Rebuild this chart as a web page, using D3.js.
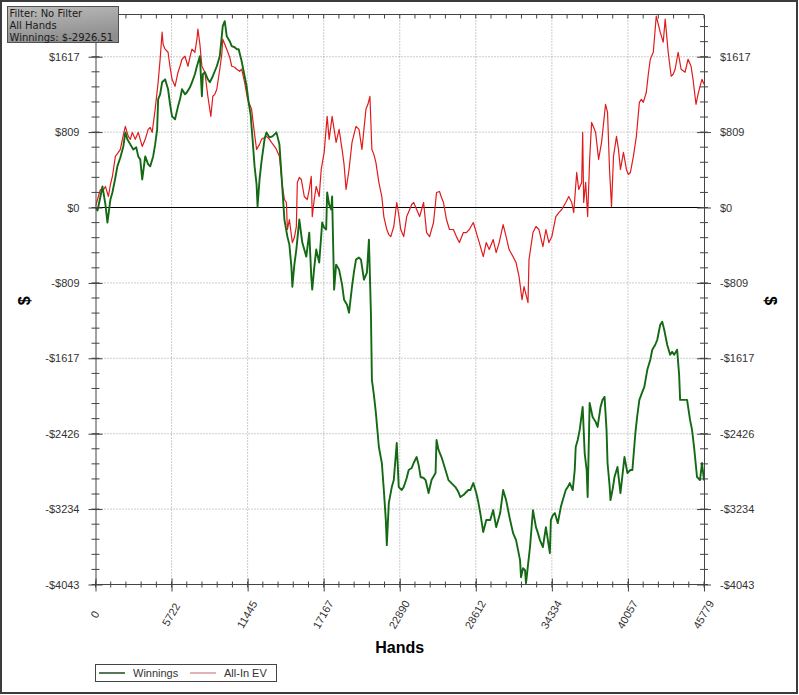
<!DOCTYPE html>
<html>
<head>
<meta charset="utf-8">
<script src="https://cdn.jsdelivr.net/npm/d3@7/dist/d3.min.js"></script>
<style>
body { margin: 0; background: #fff; }
text { font-family: "Liberation Sans", Arial, sans-serif; }
</style>
</head>
<body>
<script>
// hands played (x) and running result in $ for each series
var winHands = [0,150,374,524,748,898,1122,1272,1496,1646,
  1870,2094,2244,2394,2618,2842,3067,3216,3366,3516,
  3740,3964,4114,4338,4488,4638,4712,4862,5012,5236,
  5460,5610,5760,5984,6208,6358,6508,6732,6882,7106,
  7256,7480,7630,7854,8004,8078,8228,8452,8602,8826,
  9126,9350,9574,9724,9874,10098,10248,10472,10622,10771,
  10996,11220,11370,11519,11669,11818,11968,12118,12192,12342,
  12492,12716,12866,13090,13314,13464,13614,13838,13988,14212,
  14436,14586,14736,14810,14960,15110,15334,15558,15708,15858,
  16082,16232,16306,16456,16606,16830,17054,17204,17354,17428,
  17578,17728,17802,17952,18102,18326,18550,18700,18924,19074,
  19298,19448,19598,19822,19972,20196,20420,20570,20720,20794,
  20944,21094,21318,21542,21692,21842,21916,22066,22290,22440,
  22664,22814,23038,23188,23412,23562,23786,23936,24160,24310,
  24460,24684,24834,25058,25282,25582,25656,25806,26030,26330,
  26554,26778,27078,27302,27452,27676,27826,28050,28200,28424,
  28648,28798,28948,29172,29396,29696,29920,30144,30444,30668,
  30892,31192,31416,31640,31790,31940,32014,32164,32314,32388,
  32538,32688,32912,33136,33286,33436,33660,33884,34034,34184,
  34258,34408,34558,34782,35006,35156,35380,35530,35680,35904,
  36054,36128,36278,36428,36652,36802,36951,37026,37176,37400,
  37624,37774,37998,38148,38298,38447,38522,38672,38746,38896,
  39046,39270,39494,39644,39794,40018,40242,40392,40616,40766,
  40916,41140,41290,41514,41738,41888,42112,42262,42486,42636,
  42786,43010,43234,43384,43534,43758,43908,43982,44282,44506,
  44730,44880,45030,45254,45478,45628,45779]

var winnings = [0,-32,118,226,32,-161,86,161,322,441,
  537,655,806,731,677,623,645,548,516,301,
  548,462,441,548,677,838,1160,1214,1343,1375,
  1268,1107,978,946,1085,1160,1268,1214,1236,1289,
  1343,1429,1515,1622,1193,1429,1451,1375,1343,1408,
  1515,1622,1945,1999,1837,1784,1730,1719,1698,1698,
  1569,1408,1300,1128,999,731,441,247,11,301,
  494,731,806,752,763,784,806,677,355,-129,
  -312,-398,-634,-849,-612,-451,-129,-376,-451,-527,
  -269,-741,-881,-645,-451,-591,-161,-215,-236,161,
  32,-21,118,-881,-612,-666,-827,-989,-1042,-1128,
  -849,-688,-559,-537,-559,-774,-698,-344,-1128,-1848,
  -2009,-2203,-2568,-2740,-3030,-3352,-3621,-3170,-2998,-2923,
  -2525,-2998,-3030,-2998,-2901,-2815,-2794,-2740,-2676,-2761,
  -2890,-2901,-2923,-3062,-2923,-2847,-2493,-2600,-2676,-2815,
  -2923,-2955,-2998,-3052,-3105,-3084,-3062,-3030,-3030,-2955,
  -3062,-3159,-3277,-3481,-3352,-3352,-3245,-3428,-3277,-3030,
  -3138,-3352,-3492,-3567,-3675,-3782,-3965,-3868,-3890,-4029,
  -3836,-3643,-3245,-3428,-3492,-3567,-3643,-3428,-3567,-3707,
  -3352,-3299,-3277,-3385,-3213,-3138,-3030,-2998,-2955,-3030,
  -2815,-2568,-2493,-2385,-2138,-2633,-2815,-3105,-2095,-2246,
  -2299,-2353,-2138,-2063,-2031,-2385,-2740,-2976,-3138,-3030,
  -2890,-2783,-3062,-2869,-2676,-2847,-2815,-2815,-2418,-2224,
  -2063,-1977,-1923,-1741,-1633,-1526,-1472,-1418,-1257,-1225,
  -1311,-1472,-1580,-1547,-1580,-1526,-1794,-2063,-2063,-2063,
  -2278,-2385,-2568,-2890,-2923,-2740,-2926.51]

var evHands = [0,150,374,524,748,972,1122,1272,1496,1720,
  1870,2020,2244,2468,2618,2768,2992,3216,3366,3516,
  3740,3964,4114,4264,4488,4712,4862,5012,5086,5236,
  5460,5610,5760,5984,6208,6358,6508,6732,6956,7106,
  7256,7480,7630,7704,7854,8004,8228,8452,8677,8826,
  8976,9126,9350,9500,9574,9724,9874,10098,10248,10472,
  10622,10846,10996,11220,11444,11594,11744,11968,12118,12342,
  12492,12716,12866,13090,13240,13464,13614,13838,14062,14212,
  14362,14436,14586,14810,14960,15110,15184,15334,15484,15708,
  15932,16082,16232,16306,16456,16606,16830,16980,17204,17428,
  17578,17802,17952,18102,18326,18550,18700,18850,19074,19298,
  19448,19598,19822,20046,20196,20346,20495,20645,20794,20944,
  21094,21318,21542,21692,21916,22066,22216,22440,22664,22814,
  22964,23188,23412,23637,23786,23936,24160,24385,24534,24684,
  24908,25133,25282,25432,25656,25881,26030,26180,26404,26629,
  26928,27152,27377,27676,27900,28125,28424,28648,28873,29172,
  29396,29621,29920,30144,30369,30668,30892,31117,31416,31640,
  31865,32089,32239,32388,32538,32613,32912,33136,33361,33660,
  33884,34109,34333,34632,34857,35081,35380,35605,35829,35979,
  36203,36353,36577,36652,36727,36876,37026,37176,37325,37475,
  37624,37849,38073,38372,38522,38672,38821,38971,39195,39345,
  39494,39719,39943,40093,40242,40467,40691,40916,41065,41215,
  41439,41589,41738,41963,42187,42337,42486,42711,42860,43085,
  43309,43459,43608,43833,44057,44356,44581,44805,44955,45104,
  45179,45329,45478,45628,45779]

var allInEv = [11,86,193,172,226,118,247,333,548,591,
  623,731,870,763,731,806,731,806,731,655,
  731,838,860,806,1053,1343,1590,1880,1751,1698,
  1665,1504,1375,1300,1451,1515,1590,1622,1515,1612,
  1698,1665,1805,1913,1751,1515,1451,1193,978,1193,
  1214,1268,1483,1644,1805,1751,1698,1612,1515,1504,
  1483,1461,1483,1343,1160,1107,1053,784,623,677,
  731,752,763,731,698,655,623,548,226,86,
  54,-236,-129,-376,-322,-204,269,322,301,118,
  86,193,333,-97,86,226,118,408,591,978,
  731,978,838,698,838,623,462,193,408,698,
  784,870,838,623,838,1053,1107,1193,623,570,
  484,269,118,-97,-236,-290,-312,-204,54,-75,
  -236,-312,-97,-21,32,54,-21,-97,-21,54,
  -269,-312,-236,-161,161,172,107,54,-129,-236,
  -236,-312,-376,-269,-269,-236,-161,-269,-376,-527,
  -376,-451,-344,-484,-376,-183,-312,-451,-527,-591,
  -741,-989,-849,-935,-1021,-559,-269,-204,-236,-419,
  -236,-376,-312,-97,-54,-21,54,118,54,-54,
  376,193,269,806,54,269,-97,516,913,860,
  806,516,698,1107,1021,408,11,548,763,623,
  408,591,408,355,376,548,763,1128,1160,1128,
  1236,1429,1590,1665,2052,1966,1880,1773,2020,1665,
  1408,1429,1483,1665,1483,1451,1590,1515,1375,1193,
  1107,1214,1300,1375,1322]

var xTickValues = [0, 5722, 11445, 17167, 22890, 28612, 34334, 40057, 45779]
var yTickValues = [-4043, -3234, -2426, -1617, -809, 0, 809, 1617]
var yTickLabels = ['-$4043', '-$3234', '-$2426', '-$1617', '-$809', '$0', '$809', '$1617']
var infoLines = ['Filter: No Filter', 'All Hands', 'Winnings: $-2926.51']
var seriesNames = ['Winnings', 'All-In EV']
var seriesColors = ['#146a14', '#e01b1b']

var width = 799
var height = 695
var plot = {left: 95.5, right: 704, top: 14.5, bottom: 584.5}

var x = d3.scaleLinear()
  .domain([0, 45779])
  .range([plot.left, plot.right])

var y = d3.scaleLinear()
  .domain([-4043, 2070])
  .range([plot.bottom, plot.top])

var xMinor = d3.range(0, 41).map(function (i) { return i * 45779 / 40 })
var yMinor = d3.range(0, 38).map(function (i) { return -4043 + i * 4043 / 25 })

var svg = d3.select('body').append('svg')
  .attr('width', width)
  .attr('height', height)

// outer frame
svg.append('rect')
  .attr('x', 1).attr('y', 1)
  .attr('width', width - 3).attr('height', height - 3)
  .attr('fill', '#fff')
  .attr('stroke', '#3c3c3c')
  .attr('stroke-width', 2)

// dotted grid
svg.append('g').selectAll('line')
  .data(xTickValues.slice(1, -1))
  .enter().append('line')
  .attr('x1', function (d) { return x(d) }).attr('x2', function (d) { return x(d) })
  .attr('y1', plot.top).attr('y2', plot.bottom)
  .attr('stroke', '#9a9a9a')
  .attr('stroke-dasharray', '1,2')

svg.append('g').selectAll('line')
  .data(yTickValues.filter(function (d) { return d !== 0 && d !== -4043 }))
  .enter().append('line')
  .attr('x1', plot.left).attr('x2', plot.right)
  .attr('y1', function (d) { return y(d) }).attr('y2', function (d) { return y(d) })
  .attr('stroke', '#9a9a9a')
  .attr('stroke-dasharray', '1,2')

// zero line
svg.append('line')
  .attr('x1', plot.left).attr('x2', plot.right)
  .attr('y1', y(0)).attr('y2', y(0))
  .attr('stroke', '#000')
  .attr('stroke-width', 1)

svg.append('clipPath').attr('id', 'clip')
  .append('rect')
  .attr('x', plot.left).attr('y', plot.top - 1)
  .attr('width', plot.right - plot.left).attr('height', plot.bottom - plot.top + 2)

var line = d3.line()
  .x(function (d) { return x(d[0]) })
  .y(function (d) { return y(d[1]) })

svg.append('path')
  .datum(d3.zip(evHands, allInEv))
  .attr('clip-path', 'url(#clip)')
  .attr('d', line)
  .attr('fill', 'none')
  .attr('stroke', seriesColors[1])
  .attr('stroke-width', 1.2)
  .attr('stroke-linejoin', 'round')

svg.append('path')
  .datum(d3.zip(winHands, winnings))
  .attr('clip-path', 'url(#clip)')
  .attr('d', line)
  .attr('fill', 'none')
  .attr('stroke', seriesColors[0])
  .attr('stroke-width', 1.9)
  .attr('stroke-linejoin', 'round')

function styleAxis (g) {
  g.select('.domain').attr('stroke', '#444')
  g.selectAll('.tick line').attr('stroke', '#444')
  g.selectAll('.tick text')
    .attr('fill', '#333')
    .style('font-size', '11px')
    .style('font-family', '"Liberation Sans", Arial, sans-serif')
}

// left axis
var leftAxis = svg.append('g')
  .attr('transform', 'translate(' + plot.left + ',0)')
  .call(d3.axisLeft(y).tickValues(yTickValues)
    .tickFormat(function (d, i) { return yTickLabels[i] })
    .tickSizeInner(7).tickSizeOuter(0).tickPadding(9))
leftAxis.selectAll('.tick line').attr('x1', -7).attr('x2', 7)
styleAxis(leftAxis)
leftAxis.selectAll('.minor').data(yMinor).enter().append('line')
  .attr('x1', -4).attr('x2', 4)
  .attr('y1', function (d) { return y(d) }).attr('y2', function (d) { return y(d) })
  .attr('stroke', '#444')

// right axis
var rightAxis = svg.append('g')
  .attr('transform', 'translate(' + plot.right + ',0)')
  .call(d3.axisRight(y).tickValues(yTickValues)
    .tickFormat(function (d, i) { return yTickLabels[i] })
    .tickSizeInner(7).tickSizeOuter(0).tickPadding(9))
rightAxis.selectAll('.tick line').attr('x1', -7).attr('x2', 7)
styleAxis(rightAxis)
rightAxis.selectAll('.minor').data(yMinor).enter().append('line')
  .attr('x1', -4).attr('x2', 4)
  .attr('y1', function (d) { return y(d) }).attr('y2', function (d) { return y(d) })
  .attr('stroke', '#444')

// bottom axis
var bottomAxis = svg.append('g')
  .attr('transform', 'translate(0,' + plot.bottom + ')')
  .call(d3.axisBottom(x).tickValues(xTickValues)
    .tickFormat(function (d) { return d })
    .tickSizeInner(7).tickSizeOuter(0))
bottomAxis.select('.domain').attr('d', 'M' + (plot.left - 2) + ',0H' + (plot.right + 2))
bottomAxis.selectAll('.tick line').attr('y1', -6).attr('y2', 7)
styleAxis(bottomAxis)
bottomAxis.selectAll('.tick text')
  .attr('x', 0).attr('y', 0).attr('dy', '0.35em')
  .attr('transform', 'translate(-1,30) rotate(-60)')
  .style('text-anchor', 'middle')
bottomAxis.selectAll('.minor').data(xMinor).enter().append('line')
  .attr('x1', function (d) { return x(d) }).attr('x2', function (d) { return x(d) })
  .attr('y1', -3).attr('y2', 3)
  .attr('stroke', '#444')

// top axis
var topAxis = svg.append('g')
topAxis.append('line')
  .attr('x1', plot.left).attr('x2', plot.right)
  .attr('y1', plot.top).attr('y2', plot.top)
  .attr('stroke', '#444')
topAxis.selectAll('.minor').data(xMinor).enter().append('line')
  .attr('x1', function (d) { return x(d) }).attr('x2', function (d) { return x(d) })
  .attr('y1', plot.top).attr('y2', plot.top + 4)
  .attr('stroke', '#444')

// axis titles
svg.append('text')
  .attr('x', (plot.left + plot.right) / 2).attr('y', 653)
  .attr('text-anchor', 'middle')
  .style('font-size', '16px').style('font-weight', 'bold')
  .text('Hands')

svg.append('text')
  .attr('transform', 'translate(24,' + y(-1000) + ') rotate(-90)')
  .attr('text-anchor', 'middle').attr('dy', '0.35em')
  .style('font-size', '16px').style('font-weight', 'bold')
  .text('$')

svg.append('text')
  .attr('transform', 'translate(771,' + y(-1000) + ') rotate(90)')
  .attr('text-anchor', 'middle').attr('dy', '0.35em')
  .style('font-size', '16px').style('font-weight', 'bold')
  .text('$')

// info box
var grad = svg.append('defs').append('linearGradient')
  .attr('id', 'infoFill').attr('x1', 0).attr('y1', 0).attr('x2', 0.3).attr('y2', 1)
grad.append('stop').attr('offset', 0).attr('stop-color', '#bdbdbd')
grad.append('stop').attr('offset', 1).attr('stop-color', '#8e8e8e')

svg.append('rect')
  .attr('x', 7.5).attr('y', 6.5)
  .attr('width', 111).attr('height', 36)
  .attr('fill', 'url(#infoFill)')
  .attr('stroke', '#505050')

svg.append('g').selectAll('text')
  .data(infoLines)
  .enter().append('text')
  .attr('x', 9.5)
  .attr('y', function (d, i) { return 17 + i * 12 })
  .attr('fill', '#1a1a1a')
  .style('font-family', '"DejaVu Sans", sans-serif')
  .style('font-size', '10px')
  .text(function (d) { return d })

// legend
var legend = svg.append('g')
legend.append('rect')
  .attr('x', 95.5).attr('y', 664.5)
  .attr('width', 181).attr('height', 17)
  .attr('fill', '#fff')
  .attr('stroke', '#444')

var legendX = [99, 190]
seriesNames.forEach(function (name, i) {
  legend.append('line')
    .attr('x1', legendX[i]).attr('x2', legendX[i] + 26)
    .attr('y1', 673).attr('y2', 673)
    .attr('stroke', i === 0 ? '#1f4a1f' : '#d99a9a')
    .attr('stroke-width', 1.5)
  legend.append('text')
    .attr('x', legendX[i] + 34).attr('y', 677)
    .attr('fill', '#333')
    .style('font-size', '11px')
    .text(name)
})
</script>
</body>
</html>
